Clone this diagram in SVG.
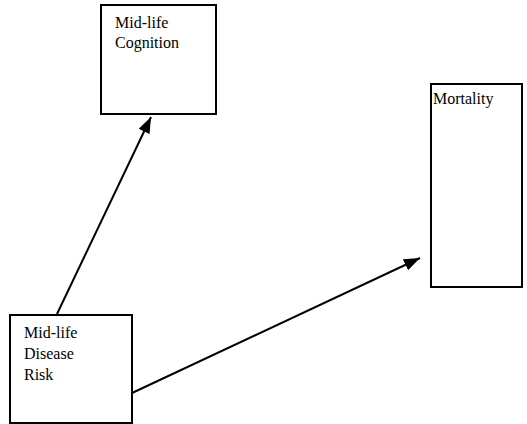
<svg xmlns="http://www.w3.org/2000/svg" width="527" height="424" viewBox="0 0 527 424">
<defs>
<style>
.box{fill:#fff;stroke:#000;stroke-width:2}
.t{font-family:"Liberation Serif",serif;font-size:16px;fill:#000}
.c{stroke:#000;stroke-width:2;fill:none}
</style>
<marker id="ah" viewBox="0 0 16 12" refX="16" refY="6" markerWidth="16" markerHeight="12" markerUnits="userSpaceOnUse" orient="auto">
<path d="M0,0 L16,6 L0,12 z" fill="#000"/>
</marker>
</defs>
<rect width="527" height="424" fill="#fff"/>
<g id="connectors">
<line class="c" x1="57" y1="314" x2="151" y2="117" marker-end="url(#ah)"/>
<line class="c" x1="132" y1="393" x2="420" y2="258" marker-end="url(#ah)"/>
</g>
<g id="cognition">
<rect class="box" x="101" y="5" width="115" height="109"/>
<text class="t" x="115" y="28">Mid-life</text>
<text class="t" x="115" y="48">Cognition</text>
</g>
<g id="mortality">
<rect class="box" x="431" y="84" width="91" height="203"/>
<text class="t" x="433" y="104">Mortality</text>
</g>
<g id="disease">
<rect class="box" x="10" y="315" width="122" height="108"/>
<text class="t" x="24" y="338">Mid-life</text>
<text class="t" x="24" y="359">Disease</text>
<text class="t" x="24" y="380">Risk</text>
</g>
</svg>
